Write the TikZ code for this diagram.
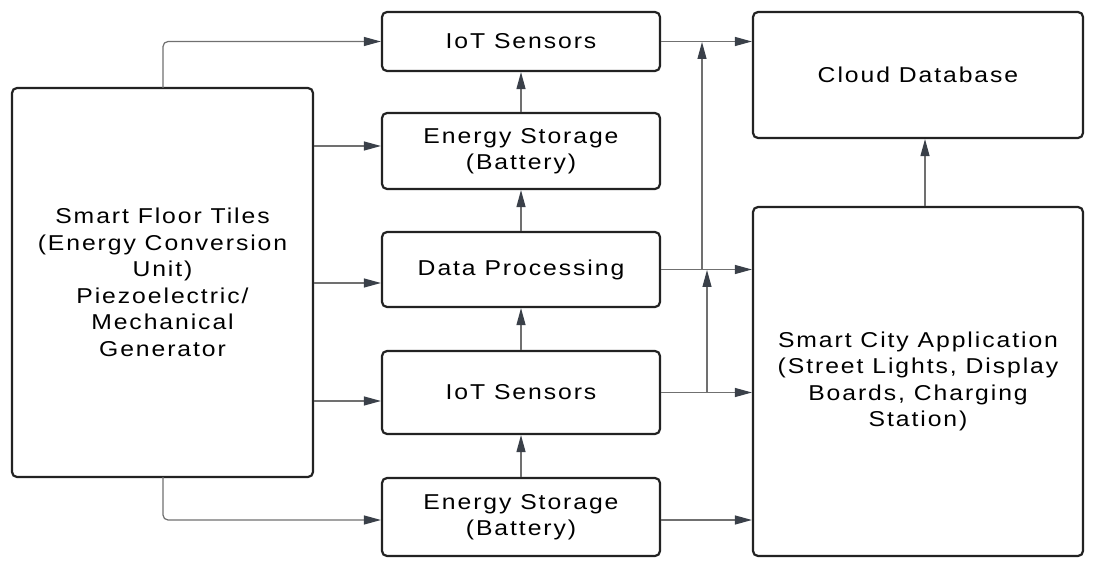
\documentclass[tikz,border=0pt]{standalone}
\usepackage{fontspec}
\setmainfont{Liberation Sans}[FakeStretch=1.15,LetterSpace=9]
\usetikzlibrary{arrows.meta}
\definecolor{boxline}{HTML}{222222}
\definecolor{conn}{HTML}{707070}
\definecolor{tip}{HTML}{3A4049}
\tikzset{
  blk/.style={draw=boxline, line width=2.2pt, rounded corners=5pt, align=center,
    inner sep=0pt, font=\fontsize{21.5}{26.5}\selectfont, text=black},
  arr/.style={draw=conn, line width=1.2pt, rounded corners=5pt,
    -{Triangle[length=17pt,width=9pt,color=tip]}},
}
\begin{document}
\begin{tikzpicture}[x=1pt,y=-1pt]
\useasboundingbox (0,0) rectangle (1095,561);
% boxes
\node[blk, minimum width=301pt, minimum height=389pt] (tiles) at (162.5,282.5)
  {Smart Floor Tiles\\(Energy Conversion\\Unit)\\Piezoelectric/\\Mechanical\\Generator};
\node[blk, minimum width=278pt, minimum height=59pt] (iot1) at (521,41.5) {IoT Sensors};
\node[blk, minimum width=278pt, minimum height=76pt] (es1) at (521,151) {Energy Storage\\(Battery)};
\node[blk, minimum width=278pt, minimum height=75pt] (dp) at (521,269.5) {Data Processing};
\node[blk, minimum width=278pt, minimum height=83pt] (iot2) at (521,392.5) {IoT Sensors};
\node[blk, minimum width=278pt, minimum height=78pt] (es2) at (521,517) {Energy Storage\\(Battery)};
\node[blk, minimum width=330pt, minimum height=126pt] (cloud) at (918,75) {Cloud Database};
\node[blk, minimum width=330pt, minimum height=349pt] (city) at (918,381.5)
  {Smart City Application\\(Street Lights, Display\\Boards, Charging\\Station)};
% junction coordinates
\coordinate (t1) at (163,88);
\coordinate (t5) at (163,477);
\coordinate (j1) at (702,270);
\coordinate (j1top) at (702,42);
\coordinate (j2) at (707,393);
\coordinate (j2top) at (707,270);
% left fan-out
\draw[arr] (t1) |- (iot1.west);
\draw[arr] (tiles.east |- 0,146) -- (es1.west |- 0,146);
\draw[arr] (tiles.east |- 0,283) -- (dp.west |- 0,283);
\draw[arr] (tiles.east |- 0,401) -- (iot2.west |- 0,401);
\draw[arr] (t5) |- (es2.west |- 0,520);
% middle column
\draw[arr] (es2.north) -- (iot2.south);
\draw[arr] (iot2.north) -- (dp.south);
\draw[arr] (dp.north) -- (es1.south);
\draw[arr] (es1.north) -- (iot1.south);
% right side
\draw[arr] (iot1.east) -- (cloud.west |- iot1.east);
\draw[arr] (dp.east) -- (city.west |- dp.east);
\draw[arr] (iot2.east) -- (city.west |- iot2.east);
\draw[arr] (es2.east |- 0,520) -- (city.west |- 0,520);
\draw[arr] (j1) -- (j1top);
\draw[arr] (j2) -- (j2top);
\draw[arr] (city.north -| 925,0) -- (cloud.south -| 925,0);
\end{tikzpicture}
\end{document}
